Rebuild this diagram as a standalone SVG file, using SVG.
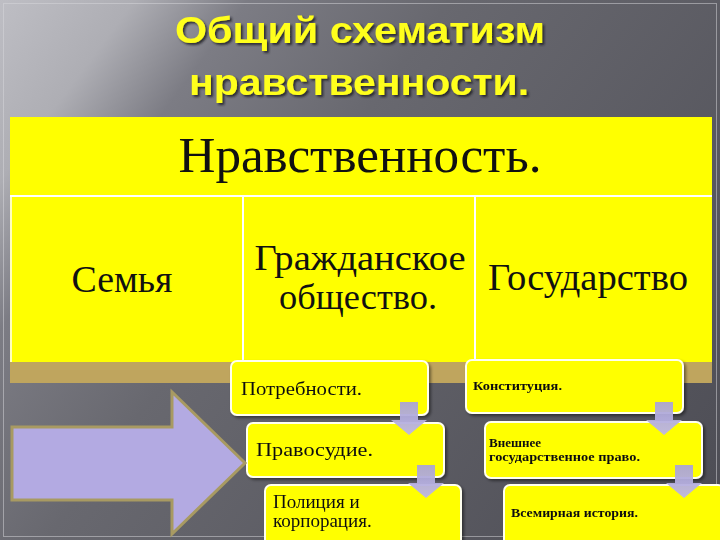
<svg xmlns="http://www.w3.org/2000/svg" width="720" height="540" viewBox="0 0 720 540">
<defs>
<linearGradient id="bg" gradientUnits="userSpaceOnUse" x1="0" y1="0" x2="720" y2="540">
<stop offset="0" stop-color="#BEBEC4"/>
<stop offset="0.12" stop-color="#AEAEB4"/>
<stop offset="0.22" stop-color="#7C7C84"/>
<stop offset="0.4" stop-color="#68686F"/>
<stop offset="1" stop-color="#4C4C54"/>
</linearGradient>
<linearGradient id="sm" x1="0" y1="0" x2="0" y2="1">
<stop offset="0" stop-color="#AAA4D4"/>
<stop offset="1" stop-color="#BDB6E6"/>
</linearGradient>
<path id="darrow" d="M-9,0 H9 V18 H18 L0,33 L-18,18 H-9 Z"/>
<filter id="sh" x="-10%" y="-10%" width="130%" height="130%">
<feDropShadow dx="2" dy="2" stdDeviation="1.5" flood-color="#000" flood-opacity="0.45"/>
</filter>
<filter id="tsh" x="-5%" y="-20%" width="110%" height="150%">
<feDropShadow dx="2" dy="2" stdDeviation="0.8" flood-color="#202026" flood-opacity="0.85"/>
</filter>
</defs>
<style>
.title{font-family:"Liberation Sans",Arial,sans-serif;font-weight:bold;font-size:37px;fill:#FFFF1A;text-anchor:middle}
.cell{fill:#FFFF00}
.big{font-family:"Liberation Serif","Times New Roman",serif;fill:#111}
.box{fill:#FFFF00;stroke:#FFFFF0;stroke-width:2}
.bt{font-family:"Liberation Serif","Times New Roman",serif;font-size:19px;fill:#111}
.st{font-family:"Liberation Serif","Times New Roman",serif;font-size:13px;font-weight:bold;fill:#111}
.sa{fill:url(#sm);opacity:0.95}
</style>
<rect x="0" y="0" width="720" height="540" fill="url(#bg)"/>
<rect x="3.5" y="3.5" width="713" height="533" fill="none" stroke="#D8D8DC" stroke-opacity="0.5" stroke-width="1"/>

<g id="title" filter="url(#tsh)">
<text class="title" x="360" y="43" textLength="370" lengthAdjust="spacingAndGlyphs">Общий схематизм</text>
<text class="title" x="359" y="95" textLength="340" lengthAdjust="spacingAndGlyphs">нравственности.</text>
</g>

<g id="table">
<rect x="10" y="362" width="702" height="21" fill="#BFA55E"/>
<rect class="cell" x="10" y="117" width="702" height="245"/>
<line x1="10" y1="196" x2="712" y2="196" stroke="#FFFFFF" stroke-width="2"/>
<line x1="243" y1="196" x2="243" y2="362" stroke="#FFFFFF" stroke-width="2"/>
<line x1="475" y1="196" x2="475" y2="362" stroke="#FFFFFF" stroke-width="2"/>
<line x1="11" y1="196" x2="11" y2="362" stroke="#FFFFFF" stroke-width="1.5"/>
</g>

<g id="node-nravstvennost">
<text class="big" x="360" y="172" font-size="51" text-anchor="middle" textLength="363" lengthAdjust="spacingAndGlyphs">Нравственность.</text>
</g>
<g id="node-semya">
<text class="big" x="122" y="292" font-size="38" text-anchor="middle" textLength="101" lengthAdjust="spacingAndGlyphs">Семья</text>
</g>
<g id="node-grazhd">
<text class="big" x="360" y="270" font-size="35" text-anchor="middle" textLength="211" lengthAdjust="spacingAndGlyphs">Гражданское</text>
<text class="big" x="358" y="309" font-size="35" text-anchor="middle" textLength="158" lengthAdjust="spacingAndGlyphs">общество.</text>
</g>
<g id="node-gosudarstvo">
<text class="big" x="588" y="290" font-size="38" text-anchor="middle" textLength="200" lengthAdjust="spacingAndGlyphs">Государство</text>
</g>

<g id="node-potrebnosti" filter="url(#sh)">
<rect class="box" x="231" y="361" width="197" height="54" rx="6"/>
<text class="bt" x="241" y="395" textLength="121" lengthAdjust="spacingAndGlyphs">Потребности.</text>
</g>
<g id="node-pravosudie" filter="url(#sh)">
<rect class="box" x="247" y="423" width="197" height="54" rx="6"/>
<text class="bt" x="256" y="456" textLength="117" lengthAdjust="spacingAndGlyphs">Правосудие.</text>
</g>
<g id="node-policiya" filter="url(#sh)">
<rect class="box" x="265" y="485" width="196" height="62" rx="6"/>
<text class="bt" x="273" y="508">Полиция и</text>
<text class="bt" x="273" y="527">корпорация.</text>
</g>
<g id="node-konstituciya" filter="url(#sh)">
<rect class="box" x="466" y="360" width="217" height="53" rx="6"/>
<text class="st" x="473" y="390" textLength="89" lengthAdjust="spacingAndGlyphs">Конституция.</text>
</g>
<g id="node-vneshnee" filter="url(#sh)">
<rect class="box" x="485" y="422" width="217" height="56" rx="6"/>
<text class="st" x="489" y="447">Внешнее</text>
<text class="st" x="489" y="461" textLength="151" lengthAdjust="spacingAndGlyphs">государственное право.</text>
</g>
<g id="node-vsemirnaya" filter="url(#sh)">
<rect class="box" x="504" y="485" width="220" height="62" rx="6"/>
<text class="st" x="511" y="517" textLength="127" lengthAdjust="spacingAndGlyphs">Всемирная история.</text>
</g>

<g id="connectors">
<polygon points="12,427 172,427 172,392 245,463 172,534 172,500 12,500" fill="#B3AAE2" stroke="#A89A62" stroke-width="3" stroke-linejoin="miter"/>
<use href="#darrow" class="sa" transform="translate(409,402)"/>
<use href="#darrow" class="sa" transform="translate(426,465)"/>
<use href="#darrow" class="sa" transform="translate(664,402)"/>
<use href="#darrow" class="sa" transform="translate(684,465)"/>
</g>
</svg>
